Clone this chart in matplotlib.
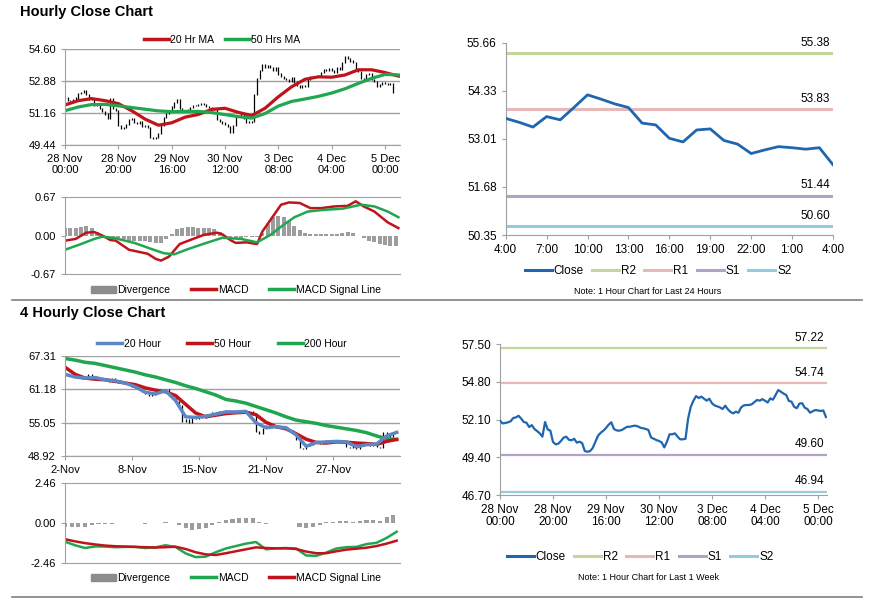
import numpy as np
import matplotlib.pyplot as plt
from matplotlib.lines import Line2D
from matplotlib.patches import Patch

plt.rcParams['font.family'] = ['Liberation Sans', 'DejaVu Sans']

# hourly closes from 28 Nov 00:00, one value per hour
hourly_close = [
    52.02, 51.83, 51.86, 51.91, 51.98, 52.22, 52.26, 52.38, 52.17, 51.93,
    51.88, 51.57, 51.71, 51.43, 51.28, 51.12, 50.88, 51.93, 51.40, 51.31,
    50.50, 50.33, 50.38, 50.57, 50.81, 50.88, 50.66, 50.62, 50.73, 50.45,
    50.52, 50.42, 49.85, 49.80, 49.85, 50.07, 50.52, 50.95, 51.16, 51.31,
    51.50, 51.74, 51.91, 51.43, 51.33, 51.31, 51.36, 51.48, 51.59, 51.59,
    51.64, 51.67, 51.62, 51.52, 51.48, 51.43, 51.36, 50.83, 50.73, 50.64,
    50.57, 50.47, 50.11, 50.52, 51.05, 51.05, 51.12, 50.88, 50.69, 50.69,
    50.73, 52.19, 53.03, 53.46, 53.79, 53.65, 53.75, 53.60, 53.46, 53.60,
    53.27, 53.12, 53.05, 52.98, 52.86, 53.10, 52.84, 52.65, 52.55, 52.67,
    52.60, 52.98, 53.12, 53.15, 53.15, 53.20, 53.36, 53.51, 53.46, 53.57,
    53.46, 53.33, 53.62, 53.53, 53.87, 54.22, 54.10, 53.97, 53.87, 53.44,
    53.39, 53.02, 52.92, 53.25, 53.28, 52.96, 52.86, 52.60, 52.70, 52.79,
    52.76, 52.72, 52.76, 52.29,
]
hourly_ticks = ['28 Nov\n00:00', '28 Nov\n20:00', '29 Nov\n16:00', '30 Nov\n12:00',
                '3 Dec\n08:00', '4 Dec\n04:00', '5 Dec\n00:00']

# moving averages, read every 5 hours
ma_hours = list(range(0, 126, 5))
ma20_hr = [51.61, 51.84, 51.95, 51.84, 51.68, 51.30, 50.85, 50.52, 50.65, 50.95,
           51.10, 51.37, 51.43, 51.21, 51.04, 51.43, 52.05, 52.59, 52.99, 53.12,
           53.10, 53.22, 53.50, 53.50, 53.35, 53.16]
ma50_hr = [51.30, 51.50, 51.63, 51.64, 51.56, 51.47, 51.38, 51.29, 51.25, 51.26,
           51.26, 51.20, 51.09, 50.98, 50.90, 51.15, 51.55, 51.80, 51.93, 52.07,
           52.25, 52.48, 52.77, 53.04, 53.25, 53.22]

# hourly MACD
macd1_hours = [0, 4, 8, 11, 14, 17, 19, 24, 27, 31, 34, 36, 39, 43, 48, 52, 57, 59,
               62, 64, 68, 72, 74, 77, 81, 84, 88, 92, 96, 101, 106, 109, 112, 116,
               121, 125]
macd1 = [-0.09, -0.06, 0.05, 0.06, 0.00, -0.08, -0.09, -0.25, -0.28, -0.32, -0.41,
         -0.44, -0.37, -0.15, -0.06, 0.01, 0.05, 0.02, -0.08, -0.13, -0.12, -0.15,
         0.07, 0.27, 0.54, 0.58, 0.57, 0.48, 0.48, 0.51, 0.52, 0.60, 0.51, 0.42,
         0.23, 0.13]
signal1_hours = [0, 6, 11, 14, 19, 26, 32, 37, 41, 46, 53, 59, 66, 72, 77, 82, 86,
                 91, 97, 104, 111, 116, 121, 125]
signal1 = [-0.25, -0.15, -0.06, -0.02, -0.05, -0.13, -0.23, -0.31, -0.33, -0.24,
           -0.13, -0.04, -0.06, -0.12, 0.01, 0.19, 0.32, 0.42, 0.45, 0.47, 0.54,
           0.51, 0.42, 0.32]
div1_hours = list(range(0, 125, 2))
div1 = [0.14, 0.14, 0.13, 0.15, 0.16, 0.13, 0.07, 0.01, -0.03, -0.04, -0.04, -0.06,
        -0.09, -0.10, -0.10, -0.10, -0.12, -0.14, -0.14, -0.07, 0.02, 0.12, 0.14,
        0.15, 0.15, 0.14, 0.14, 0.13, 0.11, 0.07, 0.00, -0.03, -0.04, -0.04, -0.03,
        -0.03, -0.02, 0.05, 0.20, 0.33, 0.35, 0.32, 0.25, 0.17, 0.09, 0.04, 0.02,
        0.02, 0.02, 0.03, 0.03, 0.03, 0.05, 0.06, 0.05, 0.00, -0.05, -0.09, -0.12,
        -0.15, -0.17, -0.18, -0.18]

# last 24 hours (4:00 to 4:00) and pivot levels
day_close = hourly_close[-25:]
day_ticks = ['4:00', '7:00', '10:00', '13:00', '16:00', '19:00', '22:00', '1:00', '4:00']
level_names = ['R2', 'R1', 'S1', 'S2']
day_levels = [55.38, 53.83, 51.44, 50.60]
week_levels = [57.22, 54.74, 49.60, 46.94]

# 4 hourly closes from 2 Nov
h4_close = [
    64.0, 63.7, 63.5, 63.4, 63.2, 63.0, 63.3, 63.9, 63.3, 63.2,
    63.1, 63.0, 62.9, 62.6, 63.1, 62.5, 62.4, 62.3, 62.1, 61.9,
    61.6, 61.5, 61.1, 60.6, 60.3, 59.9, 60.2, 60.5, 60.8, 61.0,
    61.1, 60.4, 59.6, 58.9, 58.2, 55.2, 55.6, 55.0, 55.9, 55.8,
    56.2, 56.0, 56.5, 56.4, 56.9, 56.5, 57.2, 57.0, 57.3, 57.1,
    57.2, 56.9, 57.3, 57.4, 57.1, 57.2, 56.4, 53.4, 53.0, 54.0,
    54.5, 54.3, 54.6, 54.1, 54.4, 54.2, 53.9, 53.6, 52.9, 51.8,
    50.4, 50.3, 50.7, 50.9, 51.5, 51.7, 51.2, 51.6, 51.8, 51.4,
    51.9, 51.6, 51.8, 51.3, 50.6, 50.5, 50.9, 50.2, 50.8, 51.2,
    51.3, 50.7, 51.0, 50.6, 50.5, 53.2, 53.0, 52.4, 53.1, 53.4,
]
h4_ticks = ['2-Nov', '8-Nov', '15-Nov', '21-Nov', '27-Nov']

# 4 hourly averages and MACD, read every 3 bars
h4_idx = list(range(0, 100, 3))
ma20_4h = [63.9, 63.4, 63.2, 63.3, 62.9, 62.7, 62.3, 61.6, 60.6, 60.3, 60.9, 59.1,
           56.1, 56.0, 56.2, 56.6, 57.0, 57.0, 57.1, 55.0, 54.1, 54.3, 54.1, 52.8,
           50.7, 51.4, 51.5, 51.6, 51.5, 50.6, 51.0, 51.1, 52.6, 53.25]
ma50_4h = [65.2, 63.9, 63.2, 63.0, 62.9, 62.6, 62.3, 62.0, 61.4, 61.0, 60.7, 60.0,
           58.4, 56.8, 56.1, 56.4, 56.7, 56.85, 56.95, 56.5, 55.1, 54.3, 53.9, 53.0,
           52.0, 51.4, 51.3, 51.5, 51.45, 51.3, 51.2, 51.05, 51.6, 51.95]
ma200_4h = [66.8, 66.5, 66.1, 65.9, 65.5, 65.1, 64.7, 64.3, 63.8, 63.4, 62.9, 62.4,
            61.8, 61.3, 60.7, 60.1, 59.3, 59.0, 58.6, 58.0, 57.4, 56.8, 56.1, 55.5,
            55.2, 54.9, 54.5, 54.2, 53.9, 53.6, 53.2, 52.6, 52.1, 51.96]
macd4 = [-1.13, -1.35, -1.52, -1.42, -1.43, -1.47, -1.45, -1.45, -1.52, -1.48, -1.35,
         -1.46, -1.85, -2.08, -2.05, -1.78, -1.55, -1.40, -1.25, -1.15, -1.60, -1.54,
         -1.52, -1.55, -1.98, -2.00, -1.80, -1.55, -1.47, -1.45, -1.28, -1.20, -0.90,
         -0.52]
signal4 = [-0.98, -1.11, -1.22, -1.30, -1.37, -1.41, -1.43, -1.45, -1.47, -1.49, -1.47,
           -1.44, -1.58, -1.78, -1.91, -1.95, -1.84, -1.72, -1.60, -1.48, -1.52, -1.54,
           -1.54, -1.58, -1.74, -1.84, -1.84, -1.72, -1.62, -1.56, -1.50, -1.40, -1.25,
           -1.07]
div4_idx = list(range(0, 100, 2))
div4 = [-0.20, -0.22, -0.25, -0.20, -0.12, -0.05, -0.03, -0.02, 0.00, 0.02, 0.02, 0.00,
        -0.03, 0.02, 0.03, 0.05, 0.00, -0.10, -0.30, -0.40, -0.38, -0.30, -0.10, 0.10,
        0.22, 0.28, 0.32, 0.33, 0.30, 0.05, -0.03, 0.02, 0.03, 0.02, 0.00, -0.20,
        -0.28, -0.22, -0.08, 0.05, 0.10, 0.12, 0.12, 0.10, 0.12, 0.18, 0.18, 0.15,
        0.40, 0.50]

RED = '#c0141c'
GREEN = '#21a650'
BLUE_MA = '#5b87c5'
CLOSE_BLUE = '#1f66b0'
LEVEL_COLORS = ['#c4d79b', '#e6b9b8', '#b3a2c7', '#93cddd']
GRID = '#a0a0a0'
BAR_GRAY = '#8c8c8c'

W, H = 873, 601


def rect(x0, y0, x1, y1):
    # pixel box -> figure fraction
    return [x0 / W, 1 - y1 / H, (x1 - x0) / W, (y1 - y0) / H]


def style(ax, size=8):
    for s in ('top', 'right'):
        ax.spines[s].set_visible(False)
    for s in ('left', 'bottom'):
        ax.spines[s].set_color(GRID)
    ax.tick_params(colors=GRID, labelcolor='black', labelsize=size, length=3, width=0.8)


def price_bars(ax, x, close):
    c = np.asarray(close)
    prev = np.r_[c[0], c[:-1]]
    ax.vlines(x, np.minimum(prev, c) - 0.03, np.maximum(prev, c) + 0.03,
              color='black', lw=0.9)


def macd_axes(ax, lim, xmax):
    style(ax)
    ax.spines['top'].set_visible(True)
    ax.spines['top'].set_color(GRID)
    ax.set_ylim(-lim, lim)
    ax.set_yticks([-lim, 0, lim])
    ax.set_yticklabels([f'{v:.2f}' for v in (-lim, 0, lim)])
    ax.set_xlim(0, xmax)
    ax.set_xticks([])


def fig_legend(fig, handles, labels, cx, cy, size, hl=2.4, cs=1.0):
    fig.legend(handles, labels, loc='center', bbox_to_anchor=(cx / W, 1 - cy / H),
               ncol=len(handles), frameon=False, fontsize=size, handlelength=hl,
               handletextpad=0.15, columnspacing=cs, borderpad=0)


def level_chart(fig, box, close, levels, xlim, xticks, xlabels, yticks, close_lw, lvl_lw,
                legend_y, legend_x, note, note_y):
    ax = fig.add_axes(rect(*box))
    style(ax, 8.5)
    x = np.arange(len(close))
    for name, val, col in zip(level_names, levels, LEVEL_COLORS):
        ax.plot([xlim[0], xlim[1]], [val, val], color=col, lw=lvl_lw, solid_capstyle='butt')
        ax.annotate(f'{val:.2f}', xy=(xlim[1], val), xytext=(-2, 3),
                    textcoords='offset points', ha='right', va='bottom', fontsize=8.5)
    ax.plot(x, close, color=CLOSE_BLUE, lw=close_lw, zorder=5)
    ax.set_xlim(*xlim)
    ax.set_ylim(yticks[0], yticks[-1])
    ax.set_yticks(yticks)
    ax.set_yticklabels([f'{v:.2f}' for v in yticks])
    ax.set_xticks(xticks)
    ax.set_xticklabels(xlabels, linespacing=1.0)
    handles = [Line2D([], [], color=CLOSE_BLUE, lw=2.2)] + \
              [Line2D([], [], color=c, lw=2.2) for c in LEVEL_COLORS]
    fig_legend(fig, handles, ['Close'] + level_names, legend_x, legend_y, 8.5, hl=2.3, cs=0.7)
    fig.text(648 / W, 1 - note_y / H, note, fontsize=6.5, ha='center', va='center')
    return ax


fig = plt.figure(figsize=(W / 100, H / 100), dpi=100)

# ---------------- Hourly close chart ----------------
fig.text(20 / W, 1 - 12 / H, 'Hourly Close Chart', fontsize=10.5, fontweight='bold',
         va='center')
ax1 = fig.add_axes(rect(65, 49.3, 400, 145.3))
style(ax1)
hours = np.arange(len(hourly_close))
price_bars(ax1, hours, hourly_close)
ax1.plot(ma_hours, ma20_hr, color=RED, lw=2.3)
ax1.plot(ma_hours, ma50_hr, color=GREEN, lw=2.3)
yt1 = [49.44, 51.16, 52.88, 54.60]
ax1.set_ylim(yt1[0], yt1[-1])
ax1.set_yticks(yt1)
ax1.set_yticklabels([f'{v:.2f}' for v in yt1])
ax1.yaxis.grid(True, color=GRID, lw=1)
ax1.set_axisbelow(True)
ax1.set_xlim(0, 125.6)
ax1.set_xticks(range(0, 121, 20))
ax1.set_xticklabels(hourly_ticks, linespacing=1.05)
fig_legend(fig, [Line2D([], [], color=RED, lw=2.5), Line2D([], [], color=GREEN, lw=2.5)],
           ['20 Hr MA', '50 Hrs MA'], 222, 40, 7.5)

ax1m = fig.add_axes(rect(65, 197.3, 400, 273.7))
macd_axes(ax1m, 0.67, 125.6)
ax1m.bar(div1_hours, div1, width=1.5, color=BAR_GRAY, alpha=0.85)
ax1m.plot(macd1_hours, macd1, color=RED, lw=1.8)
ax1m.plot(signal1_hours, signal1, color=GREEN, lw=1.8)
fig_legend(fig, [Patch(color=BAR_GRAY), Line2D([], [], color=RED, lw=2.5),
                 Line2D([], [], color=GREEN, lw=2.5)],
           ['Divergence', 'MACD', 'MACD Signal Line'], 236, 290, 7.5, cs=2.0)

# ---------------- Last 24 hours ----------------
level_chart(fig, (505.7, 42.7, 833, 235), day_close, day_levels, (0, 24), range(0, 25, 3),
            day_ticks, [50.35, 51.68, 53.01, 54.33, 55.66], 2.0, 2.2,
            271, 658, 'Note: 1 Hour Chart for Last 24 Hours', 292)

# ---------------- 4 hourly close chart ----------------
fig.text(20 / W, 1 - 313 / H, '4 Hourly Close Chart', fontsize=10.5, fontweight='bold',
         va='center')
ax3 = fig.add_axes(rect(65, 355.7, 400, 456))
style(ax3)
idx = np.arange(len(h4_close))
price_bars(ax3, idx, h4_close)
ax3.plot(h4_idx, ma200_4h, color=GREEN, lw=2.5)
ax3.plot(h4_idx, ma50_4h, color=RED, lw=2.5)
ax3.plot(h4_idx, ma20_4h, color=BLUE_MA, lw=2.5)
yt3 = [48.92, 55.05, 61.18, 67.31]
ax3.set_ylim(yt3[0], yt3[-1])
ax3.set_yticks(yt3)
ax3.set_yticklabels([f'{v:.2f}' for v in yt3])
ax3.yaxis.grid(True, color=GRID, lw=1)
ax3.set_axisbelow(True)
ax3.set_xlim(0, 100)
ax3.set_xticks(range(0, 100, 20))
ax3.set_xticklabels(h4_ticks)
fig_legend(fig, [Line2D([], [], color=BLUE_MA, lw=2.5), Line2D([], [], color=RED, lw=2.5),
                 Line2D([], [], color=GREEN, lw=2.5)],
           ['20 Hour', '50 Hour', '200 Hour'], 222, 344, 7.5, cs=2.6)

ax3m = fig.add_axes(rect(65, 483.3, 400, 563.3))
macd_axes(ax3m, 2.46, 100)
ax3m.bar(div4_idx, div4, width=1.2, color=BAR_GRAY, alpha=0.85)
ax3m.plot(h4_idx, macd4, color=GREEN, lw=1.8)
ax3m.plot(h4_idx, signal4, color=RED, lw=1.8)
fig_legend(fig, [Patch(color=BAR_GRAY), Line2D([], [], color=GREEN, lw=2.5),
                 Line2D([], [], color=RED, lw=2.5)],
           ['Divergence', 'MACD', 'MACD Signal Line'], 236, 578, 7.5, cs=2.0)

# ---------------- Last week ----------------
level_chart(fig, (500, 344.3, 827, 495), hourly_close, week_levels, (0, 123.4),
            range(0, 121, 20), hourly_ticks, [46.70, 49.40, 52.10, 54.80, 57.50], 1.6, 1.6,
            557, 640, 'Note: 1 Hour Chart for Last 1 Week', 578)

# separators
for y in (300, 597):
    fig.add_artist(Line2D([12 / W, 862 / W], [1 - y / H, 1 - y / H], color='#808080', lw=1.2))

fig.savefig('out.png', dpi=100)
